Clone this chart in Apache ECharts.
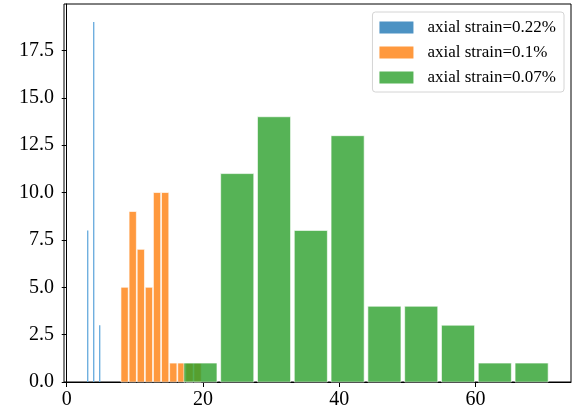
<!DOCTYPE html>
<html>
<head>
<meta charset="utf-8">
<script src="https://cdn.jsdelivr.net/npm/echarts@6/dist/echarts.min.js"></script>
<style>
  html, body { margin: 0; padding: 0; background: #fff; }
  #chart { width: 573px; height: 414px; }
</style>
</head>
<body>
<div id="chart"></div>
<script>
// Histogram bin edges and counts for each axial strain level
const seriesNames = ['axial strain=0.22%', 'axial strain=0.1%', 'axial strain=0.07%'];

const edges022 = [2.97, 3.19, 3.41, 3.63, 3.85, 4.07, 4.29, 4.51, 4.73, 4.95];
const counts022 = [8, 0, 0, 0, 19, 0, 0, 0, 3];

const edges010 = [7.90, 9.09, 10.28, 11.47, 12.66, 13.85, 15.04, 16.23, 17.42, 18.61, 19.80];
const counts010 = [5, 9, 7, 5, 10, 10, 1, 1, 1, 1];

const edges007 = [16.92, 22.32, 27.72, 33.12, 38.52, 43.92, 49.32, 54.72, 60.12, 65.52, 70.92];
const counts007 = [1, 11, 14, 8, 13, 4, 4, 3, 1, 1];

const xTicks = [0, 20, 40, 60];
const yTicks = [0, 2.5, 5, 7.5, 10, 12.5, 15, 17.5];

// bar fills and their look on white for the legend swatches
const barFills = ['#6badde', 'rgba(255,127,14,0.8)', 'rgba(44,160,44,0.8)'];
const barEdges = [null, 'rgba(255,255,255,0.8)', 'rgba(255,255,255,0.8)'];
const legendColors = ['#4c92c3', '#ff993e', '#56b356'];

const RWIDTH = 0.9;
const FONT = '"Liberation Serif", "DejaVu Serif", serif';

function binRows(edges, counts) {
  const rows = [];
  for (let i = 0; i < counts.length; i++) {
    if (counts[i] > 0) rows.push([edges[i], edges[i + 1], counts[i]]);
  }
  return rows;
}

function makeRenderer(fill, edge) {
  return function (params, api) {
    const x0 = api.value(0), x1 = api.value(1), h = api.value(2);
    const pad = (x1 - x0) * (1 - RWIDTH) / 2;
    const p0 = api.coord([x0 + pad, h]);
    const p1 = api.coord([x1 - pad, 0]);
    const style = { fill: fill };
    if (edge) { style.stroke = edge; style.lineWidth = 0.8; }
    return {
      type: 'rect',
      shape: { x: p0[0], y: p0[1], width: p1[0] - p0[0], height: p1[1] - p0[1] },
      style: style
    };
  };
}

const histograms = [
  binRows(edges022, counts022),
  binRows(edges010, counts010),
  binRows(edges007, counts007)
];

const chart = echarts.init(document.getElementById('chart'), null, { renderer: 'canvas' });

chart.setOption({
  animation: false,
  backgroundColor: '#fff',
  grid: {
    left: 64, right: 2, top: 4, bottom: 32,
    show: true, borderColor: '#000', borderWidth: 1, backgroundColor: 'transparent'
  },
  legend: {
    orient: 'vertical',
    right: 9, top: 12,
    padding: [7, 8, 6, 7],
    itemWidth: 34, itemHeight: 12, itemGap: 8,
    icon: 'rect',
    borderColor: '#d4d4d4', borderWidth: 1, borderRadius: 3,
    backgroundColor: 'rgba(255,255,255,0.8)',
    textStyle: { fontFamily: FONT, fontSize: 17, color: '#000', padding: [0, 0, 0, 9] },
    data: seriesNames
  },
  xAxis: {
    type: 'value', min: -0.4, max: 74,
    splitLine: { show: false },
    axisLine: { show: true, onZero: false, lineStyle: { color: '#000', width: 1 } },
    axisTick: { show: true, length: 5, lineStyle: { color: '#000' }, customValues: xTicks },
    axisLabel: { fontFamily: FONT, fontSize: 20, color: '#000', margin: 8, customValues: xTicks }
  },
  yAxis: {
    type: 'value', min: 0, max: 19.95,
    splitLine: { show: false },
    axisLine: { show: true, lineStyle: { color: '#000', width: 1 } },
    axisTick: { show: true, length: 5, lineStyle: { color: '#000' }, customValues: yTicks },
    axisLabel: {
      fontFamily: FONT, fontSize: 20, color: '#000', margin: 10, customValues: yTicks,
      formatter: v => Number(v).toFixed(1)
    }
  },
  series: histograms.map((rows, i) => ({
    name: seriesNames[i],
    type: 'custom',
    itemStyle: { color: legendColors[i] },
    encode: { x: [0, 1], y: 2 },
    renderItem: makeRenderer(barFills[i], barEdges[i]),
    data: rows
  }))
});
</script>
</body>
</html>
